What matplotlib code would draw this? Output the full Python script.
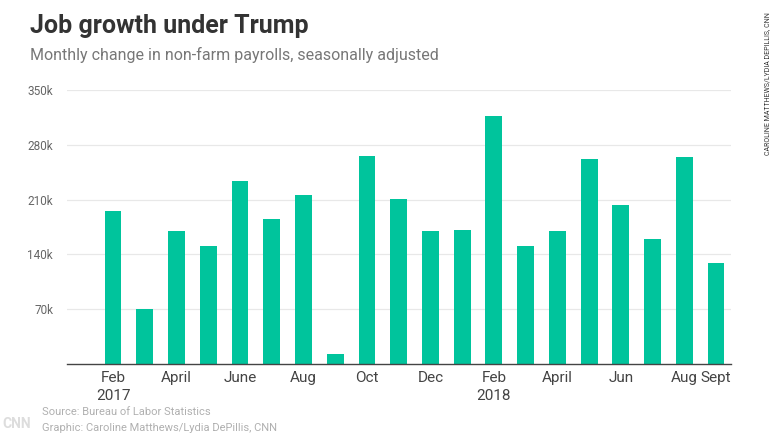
import matplotlib.pyplot as plt
import numpy as np

# Monthly change in non-farm payrolls (thousands), Feb 2017 - Sept 2018
months = ["Feb 17", "Mar 17", "Apr 17", "May 17", "Jun 17", "Jul 17", "Aug 17",
          "Sep 17", "Oct 17", "Nov 17", "Dec 17", "Jan 18", "Feb 18", "Mar 18",
          "Apr 18", "May 18", "Jun 18", "Jul 18", "Aug 18", "Sep 18"]
jobs = [195, 70, 170, 151, 234, 185, 216, 13, 266, 211, 170, 171, 317, 151,
        170, 262, 203, 160, 264, 129]

tick_idx = [0, 2, 4, 6, 8, 10, 12, 14, 16, 18, 19]
tick_labels = ["Feb\n2017", "April", "June", "Aug", "Oct", "Dec", "Feb\n2018",
               "April", "Jun", "Aug", "Sept"]
y_ticks = [70, 140, 210, 280, 350]
y_labels = ["70k", "140k", "210k", "280k", "350k"]

bar_color = "#00c49c"
font = ["Roboto", "DejaVu Sans"]

fig = plt.figure(figsize=(7.8, 4.38), dpi=100)
ax = fig.add_axes([67 / 780, 1 - 364 / 438, (731 - 67) / 780, (364 - 90) / 438])

x = np.arange(len(jobs))
ax.bar(x, jobs, width=0.53, color=bar_color, zorder=2)

ax.set_xlim(-1.45, len(jobs) - 1 + 0.47)
ax.set_ylim(0, 350)
ax.set_yticks(y_ticks)
ax.set_yticklabels(y_labels, fontfamily=font, fontsize=8.5, color="#666666")
ax.set_xticks(tick_idx)
ax.set_xticklabels(tick_labels, fontfamily=font, fontsize=11, color="#444444",
                   linespacing=1.35)
ax.tick_params(axis="both", length=0)
ax.tick_params(axis="y", pad=10)
ax.tick_params(axis="x", pad=5)
ax.grid(axis="y", color="#e8e8e8", linewidth=0.9, zorder=0)
for side in ["top", "right", "left"]:
    ax.spines[side].set_visible(False)
ax.spines["bottom"].set_color("#444444")
ax.spines["bottom"].set_linewidth(1.0)

fig.text(30 / 780, 1 - 33 / 438, "Job growth under Trump", fontfamily=font,
         fontweight="bold", fontsize=18, color="#333333")
fig.text(30 / 780, 1 - 60 / 438, "Monthly change in non-farm payrolls, seasonally adjusted",
         fontfamily=font, fontsize=11.5, color="#777777")

fig.text(42 / 780, 1 - 415 / 438, "Source: Bureau of Labor Statistics",
         fontfamily=font, fontsize=8, color="#b0b0b0")
fig.text(42 / 780, 1 - 431 / 438, "Graphic: Caroline Matthews/Lydia DePillis, CNN",
         fontfamily=font, fontsize=8, color="#b0b0b0")
fig.text(2 / 780, 1 - 428 / 438, "CNN", fontfamily=font, fontweight="bold",
         fontsize=10, color="#dddddd")

fig.text(768 / 780, 1 - 84 / 438, "CAROLINE MATTHEWS/LYDIA DEPILLIS, CNN",
         fontfamily=font, fontsize=5, color="#333333", rotation=90,
         ha="center", va="center")

fig.savefig("out.png", dpi=100)
